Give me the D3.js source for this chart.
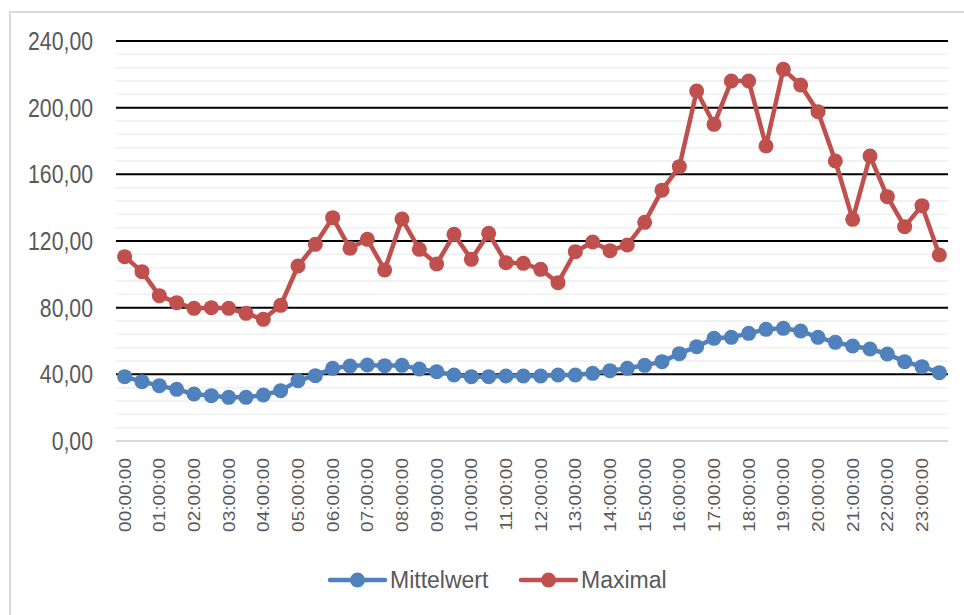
<!DOCTYPE html>
<html>
<head>
<meta charset="utf-8">
<script src="https://cdn.jsdelivr.net/npm/d3@7"></script>
<style>
  body { margin: 0; background: #fff; }
  svg text { font-family: "Liberation Sans", Arial, sans-serif; fill: #595959; }
</style>
</head>
<body>
<div id="chart"></div>
<script>
// chart data (half-hour steps)
const times = [
  "00:00:00","00:30:00","01:00:00","01:30:00","02:00:00","02:30:00","03:00:00","03:30:00",
  "04:00:00","04:30:00","05:00:00","05:30:00","06:00:00","06:30:00","07:00:00","07:30:00",
  "08:00:00","08:30:00","09:00:00","09:30:00","10:00:00","10:30:00","11:00:00","11:30:00",
  "12:00:00","12:30:00","13:00:00","13:30:00","14:00:00","14:30:00","15:00:00","15:30:00",
  "16:00:00","16:30:00","17:00:00","17:30:00","18:00:00","18:30:00","19:00:00","19:30:00",
  "20:00:00","20:30:00","21:00:00","21:30:00","22:00:00","22:30:00","23:00:00","23:30:00"
];
const mittelwert = [
  38.6, 35.6, 33.2, 31.0, 28.2, 27.2, 26.2, 26.2, 27.6, 30.2, 36.2, 39.2,
  43.6, 45.0, 45.6, 45.2, 45.4, 43.2, 41.6, 39.6, 38.6, 38.6, 39.0, 39.0,
  39.0, 39.6, 39.6, 40.6, 42.2, 43.6, 45.4, 47.6, 52.4, 56.6, 61.6, 62.2,
  64.6, 67.0, 67.6, 66.0, 62.2, 59.2, 57.0, 55.2, 52.2, 47.6, 44.6, 41.0
];
const maximal = [
  110.6, 101.6, 87.2, 83.0, 79.6, 80.0, 79.6, 76.6, 73.0, 81.4, 105.0, 118.0,
  134.0, 115.6, 121.0, 102.6, 133.2, 115.0, 106.2, 124.0, 109.0, 124.6, 107.0, 106.6,
  103.0, 95.0, 113.6, 119.4, 114.2, 117.6, 131.2, 150.5, 164.6, 210.0, 190.0, 216.0,
  216.0, 177.0, 223.0, 213.6, 197.6, 168.0, 133.0, 171.0, 146.6, 128.6, 141.2, 111.6
];
const majorTicks = [0, 40, 80, 120, 160, 200, 240];
const seriesNames = ["Mittelwert", "Maximal"];

const width = 964, height = 615;
const plot = {left: 116, right: 948, top: 41, bottom: 441};
const colors = d3.scaleOrdinal().domain(seriesNames).range(["#4f81bd", "#c0504d"]);
const fmt = v => d3.format(".2f")(v).replace(".", ",");

const svg = d3.select("#chart").append("svg")
    .attr("width", width)
    .attr("height", height);

// outer chart frame (runs off the right and bottom edge)
svg.append("path")
    .attr("d", `M10,${height + 5} V12 H${width + 5}`)
    .attr("fill", "none")
    .attr("stroke", "#d9d9d9")
    .attr("stroke-width", 2);

const x = d3.scaleBand()
    .domain(times)
    .range([plot.left, plot.right]);

const y = d3.scaleLinear()
    .domain([0, 240])
    .range([plot.bottom, plot.top]);

// minor gridlines every 8
const minor = d3.range(8, 240, 8).filter(v => v % 40 !== 0);
svg.append("g").selectAll("line")
  .data(minor)
  .join("line")
    .attr("x1", plot.left).attr("x2", plot.right)
    .attr("y1", d => y(d)).attr("y2", d => y(d))
    .attr("stroke", "#f2f2f2")
    .attr("stroke-width", 2);

// major gridlines
svg.append("g").selectAll("line")
  .data(majorTicks.filter(d => d > 0))
  .join("line")
    .attr("x1", plot.left).attr("x2", plot.right)
    .attr("y1", d => y(d)).attr("y2", d => y(d))
    .attr("stroke", "#000")
    .attr("stroke-width", 2);

// category axis line
svg.append("line")
    .attr("x1", plot.left).attr("x2", plot.right)
    .attr("y1", y(0)).attr("y2", y(0))
    .attr("stroke", "#d9d9d9")
    .attr("stroke-width", 2);

// y labels (text looks horizontally squeezed in the picture)
svg.append("g").selectAll("text")
  .data(majorTicks)
  .join("text")
    .attr("transform", d => `translate(93,${y(d) + 9}) scale(0.85,1)`)
    .attr("text-anchor", "end")
    .attr("font-size", 25)
    .text(d => fmt(d));

// x labels, hourly
svg.append("g").selectAll("text")
  .data(times.filter((d, i) => i % 2 === 0))
  .join("text")
    .attr("transform", d => `translate(${x(d) + x.bandwidth() / 2 + 6},458) scale(0.85,1) rotate(-90)`)
    .attr("text-anchor", "end")
    .attr("font-size", 19)
    .text(d => d);

const series = [
  {name: "Mittelwert", values: mittelwert},
  {name: "Maximal", values: maximal}
];

const line = d3.line()
    .x((d, i) => x(times[i]) + x.bandwidth() / 2)
    .y(d => y(d));

const g = svg.append("g").selectAll("g")
  .data(series)
  .join("g");

g.append("path")
    .attr("d", d => line(d.values))
    .attr("fill", "none")
    .attr("stroke", d => colors(d.name))
    .attr("stroke-width", 4.5)
    .attr("stroke-linejoin", "round");

g.selectAll("circle")
  .data(d => d.values.map(v => ({v: v, name: d.name})))
  .join("circle")
    .attr("cx", (d, i) => x(times[i]) + x.bandwidth() / 2)
    .attr("cy", d => y(d.v))
    .attr("r", 7.5)
    .attr("fill", d => colors(d.name));

// legend
const legendX = [330, 521];
const legend = svg.append("g").selectAll("g")
  .data(seriesNames)
  .join("g")
    .attr("transform", (d, i) => `translate(${legendX[i]},580)`);

legend.append("line")
    .attr("x1", 0).attr("x2", 55)
    .attr("stroke", d => colors(d))
    .attr("stroke-width", 4.5)
    .attr("stroke-linecap", "round");

legend.append("circle")
    .attr("cx", 27.5)
    .attr("r", 7.5)
    .attr("fill", d => colors(d));

legend.append("text")
    .attr("x", 60)
    .attr("y", 8)
    .attr("font-size", 23)
    .text(d => d);
</script>
</body>
</html>
